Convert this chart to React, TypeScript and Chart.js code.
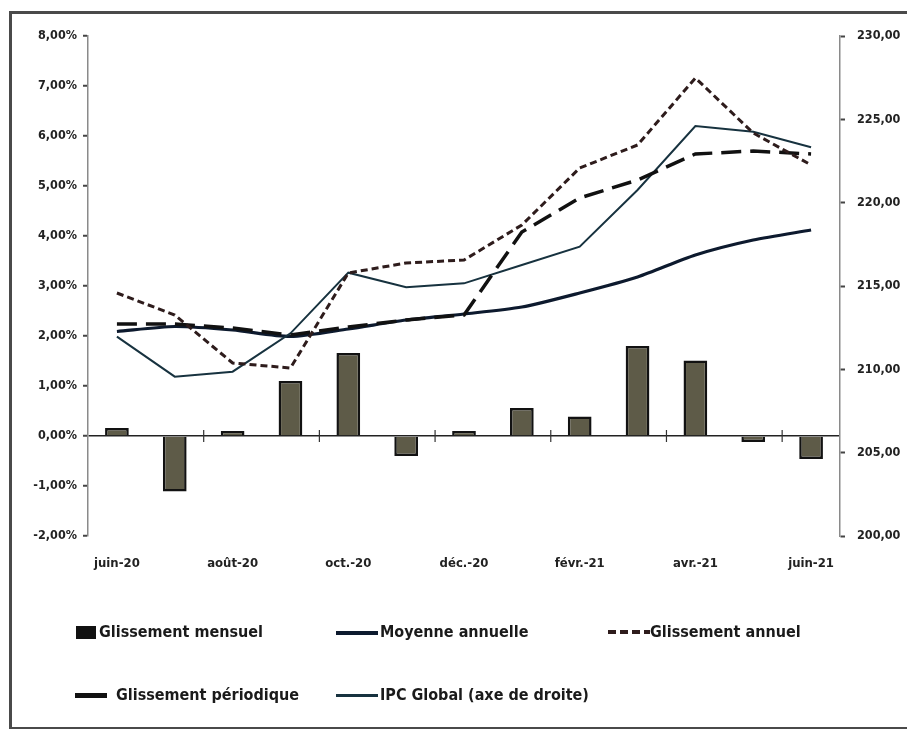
import React, { useEffect, useRef } from "react";
import { Chart, registerables } from "chart.js";

Chart.register(...registerables);

const categories = [
  "juin-20", "juil.-20", "août-20", "sept.-20", "oct.-20", "nov.-20", "déc.-20",
  "janv.-21", "févr.-21", "mars-21", "avr.-21", "mai-21", "juin-21",
];
const glissementMensuel = [0.16, -1.11, 0.1, 1.1, 1.66, -0.4, 0.1, 0.56, 0.39, 1.8, 1.51, -0.12, -0.46];
const moyenneAnnuelle = [2.09, 2.19, 2.12, 1.99, 2.14, 2.32, 2.44, 2.58, 2.86, 3.18, 3.62, 3.92, 4.12];
const glissementAnnuel = [2.86, 2.42, 1.46, 1.36, 3.26, 3.46, 3.52, 4.22, 5.36, 5.82, 7.16, 6.06, 5.42];
const glissementPeriodique = [2.24, 2.24, 2.16, 2.02, 2.18, 2.32, 2.42, 4.08, 4.76, 5.12, 5.64, 5.7, 5.64];
const ipcGlobal = [211.96, 209.56, 209.86, 212.16, 215.8, 214.92, 215.16, 216.26, 217.36, 220.76, 224.6, 224.26, 223.32];

const FONT = "'Liberation Sans Narrow', 'DejaVu Sans Condensed', 'Liberation Sans', sans-serif";
const TEXT = "#222";

const zeroTicksPlugin = {
  id: "zeroTicks",
  afterDatasetsDraw(chart: any) {
    const xs = chart.scales.x;
    const ys = chart.scales.y;
    const y0 = ys.getPixelForValue(0);
    const ctx = chart.ctx;
    ctx.save();
    ctx.strokeStyle = "#333";
    ctx.lineWidth = 1.2;
    for (let k = 2; k < categories.length; k += 2) {
      const x = (xs.getPixelForValue(k - 1) + xs.getPixelForValue(k)) / 2;
      ctx.beginPath();
      ctx.moveTo(x, y0 - 6);
      ctx.lineTo(x, y0 + 6);
      ctx.stroke();
    }
    ctx.restore();
  },
};

export default function App() {
  const ref = useRef<HTMLCanvasElement | null>(null);

  useEffect(() => {
    if (!ref.current) return;
    const chart = new Chart(ref.current, {
      type: "bar",
      data: {
        labels: categories,
        datasets: [
          {
            type: "bar",
            label: "Glissement mensuel",
            data: glissementMensuel,
            backgroundColor: "#5e5b48",
            borderColor: "#121212",
            borderWidth: 2.5,
            barPercentage: 0.41,
            categoryPercentage: 1,
            yAxisID: "y",
            order: 5,
          },
          {
            type: "line",
            label: "Moyenne annuelle",
            data: moyenneAnnuelle,
            borderColor: "#0d1a2e",
            borderWidth: 3.2,
            pointRadius: 0,
            tension: 0.25,
            yAxisID: "y",
            order: 2,
          },
          {
            type: "line",
            label: "Glissement annuel",
            data: glissementAnnuel,
            borderColor: "#2e1c1c",
            borderWidth: 3,
            borderDash: [7, 4],
            pointRadius: 0,
            tension: 0,
            yAxisID: "y",
            order: 1,
          },
          {
            type: "line",
            label: "Glissement périodique",
            data: glissementPeriodique,
            borderColor: "#111",
            borderWidth: 3.5,
            borderDash: [20, 9],
            pointRadius: 0,
            tension: 0,
            yAxisID: "y",
            order: 1,
          },
          {
            type: "line",
            label: "IPC Global (axe de droite)",
            data: ipcGlobal,
            borderColor: "#17323f",
            borderWidth: 2,
            pointRadius: 0,
            tension: 0,
            yAxisID: "y1",
            order: 1,
          },
        ],
      },
      options: {
        responsive: false,
        animation: false,
        layout: { padding: { left: 0, right: 0, top: 36, bottom: 143 } },
        plugins: { legend: { display: false }, tooltip: { enabled: false } },
        scales: {
          x: {
            grid: { display: false, drawTicks: false },
            border: { display: false },
            ticks: {
              autoSkip: false,
              maxRotation: 0,
              padding: 20,
              color: TEXT,
              font: { family: FONT, size: 13, weight: "bold" },
              callback: (_v: any, i: number) => (i % 2 === 0 ? categories[i] : ""),
            },
            afterFit: (s: any) => { s.height = 50; },
          },
          y: {
            position: "left",
            min: -2,
            max: 8,
            ticks: {
              stepSize: 1,
              padding: 6,
              color: TEXT,
              font: { family: FONT, size: 12.5, weight: "bold" },
              callback: (v: any) => Number(v).toFixed(2).replace(".", ",") + "%",
            },
            grid: {
              color: (c: any) => (c.tick && c.tick.value === 0 ? "#222" : "rgba(0,0,0,0)"),
              lineWidth: 1.5,
              tickColor: "#444",
              tickLength: 5,
              tickWidth: 2,
            },
            border: { display: true, color: "#8a8a8a", width: 1.5 },
            afterFit: (s: any) => { s.width = 88; },
          },
          y1: {
            position: "right",
            min: 200,
            max: 230,
            ticks: {
              stepSize: 5,
              padding: 12,
              color: TEXT,
              font: { family: FONT, size: 12.5, weight: "bold" },
              callback: (v: any) => Number(v).toFixed(2).replace(".", ","),
            },
            grid: { drawOnChartArea: false, tickColor: "#444", tickLength: 5, tickWidth: 2 },
            border: { display: true, color: "#8a8a8a", width: 1.5 },
            afterFit: (s: any) => { s.width = 67; },
          },
        },
      },
      plugins: [zeroTicksPlugin],
    } as any);
    return () => chart.destroy();
  }, []);

  const legendText: React.CSSProperties = {
    position: "absolute",
    fontFamily: FONT,
    fontWeight: "bold",
    fontSize: 16,
    color: "#1a1a1a",
    lineHeight: "20px",
    whiteSpace: "nowrap",
  };

  return (
    <div style={{ position: "fixed", left: 0, top: 0, width: 907, height: 729, overflow: "hidden", background: "#fff" }}>
      <canvas ref={ref} width={907} height={729} style={{ position: "absolute", left: 0, top: 0 }} />
      <div
        style={{
          position: "absolute",
          left: 9,
          top: 11,
          width: 1000,
          height: 713,
          border: "3px solid #4a4a4a",
          pointerEvents: "none",
        }}
      />
      {/* Legend row 1 */}
      <div style={{ position: "absolute", left: 76, top: 626, width: 20, height: 13, background: "#111" }} />
      <div style={{ ...legendText, left: 99, top: 622 }}>Glissement mensuel</div>
      <div style={{ position: "absolute", left: 336, top: 631, width: 42, height: 4, background: "#0d1a2e" }} />
      <div style={{ ...legendText, left: 380, top: 622 }}>Moyenne annuelle</div>
      <svg style={{ position: "absolute", left: 608, top: 628 }} width={42} height={8}>
        <line x1={0} y1={4} x2={42} y2={4} stroke="#2e1c1c" strokeWidth={4} strokeDasharray="8 4" />
      </svg>
      <div style={{ ...legendText, left: 650, top: 622 }}>Glissement annuel</div>
      {/* Legend row 2 */}
      <div style={{ position: "absolute", left: 75, top: 693, width: 32, height: 5, background: "#111" }} />
      <div style={{ ...legendText, left: 116, top: 685 }}>Glissement périodique</div>
      <div style={{ position: "absolute", left: 336, top: 694, width: 42, height: 3, background: "#17323f" }} />
      <div style={{ ...legendText, left: 380, top: 685 }}>IPC Global (axe de droite)</div>
    </div>
  );
}
